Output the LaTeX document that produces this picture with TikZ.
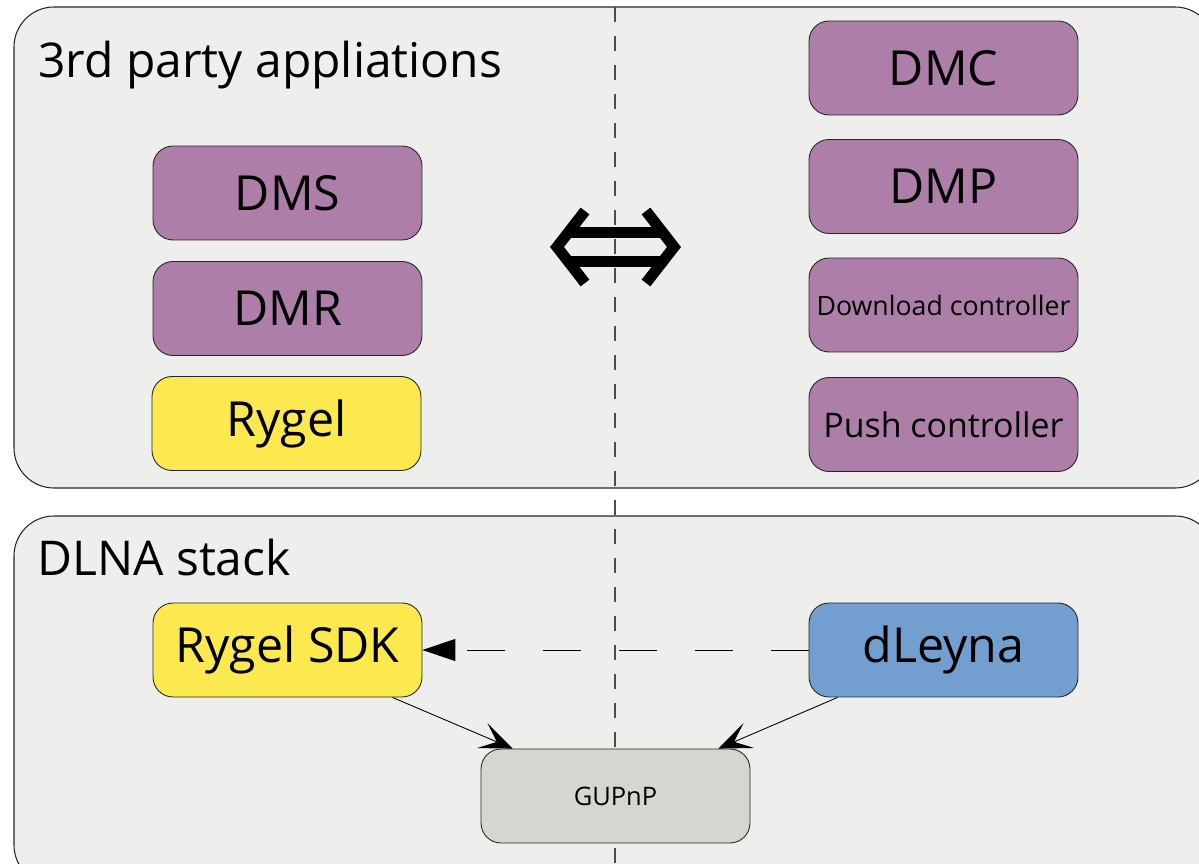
\documentclass[tikz,border=0pt]{standalone}
\usepackage{fontspec}
\setmainfont{Open Sans}
\usepackage{xcolor}
\usetikzlibrary{arrows.meta}
\definecolor{Plum}{HTML}{AD7FA8}
\definecolor{Butter}{HTML}{FCE94F}
\definecolor{SkyBlue}{HTML}{729FCF}
\definecolor{Aluminium}{HTML}{D3D7CF}
\definecolor{PanelGray}{HTML}{EEEEEC}
\tikzstyle{panel}=[draw=black!85, fill=PanelGray, rounded corners=0.8cm, line width=0.6pt]
\tikzstyle{compBlock}=[draw=black!85, rounded corners=0.4cm, minimum width=5.38cm, minimum height=1.88cm, inner sep=1pt, line width=0.5pt, font=\fontsize{27.5}{32}\selectfont]
\tikzstyle{appBlock}=[compBlock, fill=Plum]
\tikzstyle{rygelBlock}=[compBlock, fill=Butter]
\tikzstyle{leynaBlock}=[compBlock, fill=SkyBlue]
\tikzstyle{coreBlock}=[compBlock, fill=Aluminium, font=\fontsize{14.5}{17}\selectfont]
\tikzstyle{panelTitle}=[anchor=base west, inner sep=0pt, font=\fontsize{27.3}{32}\selectfont]
\tikzstyle{divider}=[draw=black!70, line width=0.75pt, dash pattern=on 0.3cm off 0.28cm, dash phase=0.43cm]
\tikzstyle{useTransition}=[-{Stealth[length=0.66cm, width=0.54cm, inset=0.32cm]}, line width=0.5pt]
\tikzstyle{wrapTransition}=[-{Triangle[length=0.66cm, width=0.44cm]}, line width=0.5pt, dash pattern=on 0.76cm off 0.76cm]

\begin{document}
\begin{tikzpicture}[x=0.02cm, y=-0.02cm]
    \useasboundingbox (0,0) rectangle (1199,864);
    \clip (0,0) rectangle (1199,864);

    % Panels
    \draw[panel] (14,7) rectangle (1215,488);
    \draw[panel] (14,516) rectangle (1215,885);
    \node[panelTitle] (appTitle) at (38,78) {3rd party appliations};
    \node[panelTitle] (stackTitle) at (37,575) {DLNA stack};

    % Divider
    \coordinate (divTop) at (615,0);
    \coordinate (divBot) at (615,864);
    \draw[divider] (divTop) -- (divBot);

    % Left side
    \node[appBlock] (dms) at (287.5,193) {DMS};
    \node[appBlock] (dmr) at (287.5,308.5) {DMR};
    \node[rygelBlock] (rygel) at (286.5,423.5) {Rygel};

    % Right side
    \node[appBlock] (dmc) at (943.5,68) {DMC};
    \node[appBlock] (dmp) at (943.5,186.5) {DMP};
    \node[appBlock, font=\fontsize{15.2}{18}\selectfont] (download) at (943.5,305) {Download controller};
    \node[appBlock, font=\fontsize{19.3}{23}\selectfont] (push) at (943.5,424.5) {Push controller};

    % Two-way symbol
    \draw[line width=0.22cm, miter limit=4] (585,211) -- (557,247) -- (585,283);
    \draw[line width=0.22cm, miter limit=4] (646,211) -- (674,247) -- (646,283);
    \draw[line width=0.22cm] (570,233) -- (661,233);
    \draw[line width=0.22cm] (570,262) -- (661,262);

    % Stack
    \node[rygelBlock] (rygelsdk) at (287.5,650) {Rygel SDK};
    \node[leynaBlock] (dleyna) at (943.5,650) {dLeyna};
    \node[coreBlock] (gupnp) at (615.5,796) {GUPnP};
    \draw[wrapTransition] (dleyna.west) -- (rygelsdk.east);
    \draw[useTransition] ([xshift=-0.6cm]rygelsdk.south east) -- ([xshift=0.64cm]gupnp.north west);
    \draw[useTransition] ([xshift=0.58cm]dleyna.south west) -- ([xshift=-0.64cm]gupnp.north east);
\end{tikzpicture}
\end{document}
